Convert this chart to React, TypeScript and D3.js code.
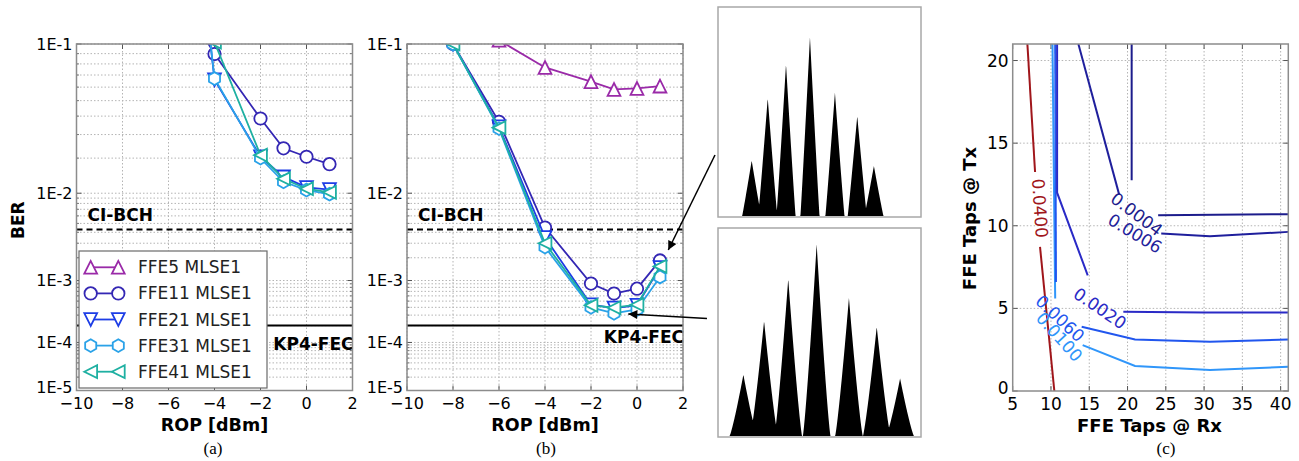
import React from 'react';
import * as d3 from 'd3';

// ---------------- data ----------------
const seriesNames = ['FFE5 MLSE1', 'FFE11 MLSE1', 'FFE21 MLSE1', 'FFE31 MLSE1', 'FFE41 MLSE1'];
const seriesColors = ['#9a2aa8', '#3427b4', '#1d3de6', '#2aa2e8', '#1fb0a2'];
const seriesMarkers = ['tri-up', 'circle', 'tri-down', 'hexagon', 'tri-left'];

// panel (a): FFE5 lies entirely above 1E-1 (not visible)
const ropA = [-5, -4, -2, -1, 0, 1];
const ffe11A = [0.133, 0.0896, 0.0386, 0.0238, 0.0205, 0.0179];
const ffe21A = [0.35, 0.066, 0.0205, 0.014, 0.0113, 0.0108];
const ffe31A = [0.35, 0.067, 0.02, 0.0127, 0.0107, 0.0098];
const ffe41A = [0.3, 0.102, 0.0211, 0.0135, 0.011, 0.0102];

// panel (b)
const ropB = [-8, -6, -4, -2, -1, 0, 1];
const ffe5B = [0.2, 0.104, 0.0767, 0.0644, 0.0582, 0.059, 0.0608];
const ffe11B = [0.1, 0.0367, 0.00451, 0.000906, 0.00065, 0.000766, 0.00185];
const ffe21B = [0.1, 0.034, 0.0035, 0.00044, 0.00039, 0.00043, 0.0015];
const ffe31B = [0.1, 0.033, 0.0027, 0.0004, 0.00032, 0.00037, 0.00112];
const ffe41B = [0.1, 0.0335, 0.003, 0.00043, 0.000395, 0.00044, 0.00155];

const xTicks = [-10, -8, -6, -4, -2, 0, 2];
const xTickLabels = ['\u221210', '\u22128', '\u22126', '\u22124', '\u22122', '0', '2'];
const yTicks = [1e-1, 1e-2, 1e-3, 1e-4, 1e-5];
const yTickLabels = ['1E-1', '1E-2', '1E-3', '1E-4', '1E-5'];
const ciBch = 4.3e-3;
const kp4Fec = 2e-4;

// histograms (normalized amplitude level, normalized count)
const histTopLevels = [0.166, 0.245, 0.335, 0.453, 0.576, 0.686, 0.768];
const histTopCounts = [0.31, 0.66, 0.85, 1.0, 0.69, 0.56, 0.28];
const histBotLevels = [0.125, 0.227, 0.346, 0.486, 0.645, 0.782, 0.897];
const histBotCounts = [0.32, 0.6, 0.82, 1.0, 0.72, 0.57, 0.3];

// panel (c) contours (FFE taps @ Rx, FFE taps @ Tx)
const cXTicks = [5, 10, 15, 20, 25, 30, 35, 40];
const cYTicks = [0, 5, 10, 15, 20];
const contourNames = ['0.0400', '0.0100', '0.0060', '0.0020', '0.0006', '0.0004'];
const contourColors = ['#a0161b', '#3096fa', '#2156ee', '#2a2ac6', '#1f1f9c', '#1c1c8c'];
const c0400 = [[[6.92, 21], [7.92, 13.25]], [[8.57, 8.72], [10.44, 0]]];
const c0100 = [[[10.2, 21], [10.4, 12], [10.55, 5.6]], [[14.14, 2.78], [20.98, 1.51], [30.77, 1.27], [41, 1.47]]];
const c0060 = [[[10.55, 21], [10.65, 6.6]], [[14.01, 3.89], [20.98, 3.12], [30.77, 2.98], [41, 3.12]]];
const c0020 = [[[10.8, 21], [10.8, 12.0], [14.8, 7.0]], [[19.45, 4.79], [30, 4.75], [41, 4.75]]];
const c0006 = [[[13.58, 21], [18.9, 11.9]], [[24.4, 9.53], [30.77, 9.37], [41, 9.63]]];
const c0004 = [[[20.54, 21], [20.54, 12.75]], [[24.0, 10.63], [41, 10.7]]];
const contourData = [c0400, c0100, c0060, c0020, c0006, c0004];
const contourLabelX = [8.57, 11.09, 11.18, 16.4, 20.97, 21.19];
const contourLabelY = [11.06, 3.28, 4.39, 5.0, 9.53, 10.7];
const contourLabelAngle = [86, 48, 43, 34, 31, 37];

// ---------------- helpers ----------------
const FONT = 'DejaVu Sans, sans-serif';
const GRID = { stroke: '#b4b4b4', strokeWidth: 1, strokeDasharray: '1.5,2' };
const FRAME = '#8c8c8c';

function markerPath(type: string, s: number): string {
  switch (type) {
    case 'tri-up':
      return `M0,${-s}L${-s},${s}L${s},${s}Z`;
    case 'tri-down':
      return `M0,${s}L${-s},${-s}L${s},${-s}Z`;
    case 'tri-left':
      return `M${-s},0L${s},${-s}L${s},${s}Z`;
    case 'hexagon': {
      const pts = d3.range(6).map((k) => {
        const a = ((-90 + 60 * k) * Math.PI) / 180;
        return [s * Math.cos(a), s * Math.sin(a)];
      });
      return 'M' + pts.map((p) => p.join(',')).join('L') + 'Z';
    }
    default: {
      const r = s * 0.97;
      return `M${r},0A${r},${r} 0 1,1 ${-r},0A${r},${r} 0 1,1 ${r},0Z`;
    }
  }
}

function Marker({ type, x, y, color }: any) {
  return (
    <path d={markerPath(type, 6.4)} transform={`translate(${x},${y})`} fill="white" stroke={color} strokeWidth={1.8} />
  );
}

const minorVals: number[] = [];
for (let n = 2; n <= 5; n++) for (let k = 2; k <= 9; k++) minorVals.push(k * Math.pow(10, -n));

function BerPanel({ id, x0, x1, y0, y1, rop, series, showYLabel, kpLabelY }: any) {
  const xs = d3.scaleLinear().domain([-10, 2]).range([x0, x1]);
  const ls = d3.scaleLog().domain([1, 5]).range([y0, y1]);
  const ys = (v: number) => ls(-Math.log10(v));
  const line = d3
    .line<[number, number]>()
    .x((d) => xs(d[0]))
    .y((d) => ys(d[1]));
  return (
    <g>
      <defs>
        <clipPath id={id}>
          <rect x={x0} y={y0} width={x1 - x0} height={y1 - y0} />
        </clipPath>
      </defs>
      <rect x={x0} y={y0} width={x1 - x0} height={y1 - y0} fill="white" />
      {minorVals.map((v, i) => (
        <line key={'m' + i} x1={x0} x2={x1} y1={ys(v)} y2={ys(v)} {...GRID} />
      ))}
      {yTicks.map((v, i) => (
        <line key={'y' + i} x1={x0} x2={x1} y1={ys(v)} y2={ys(v)} {...GRID} />
      ))}
      {xTicks.map((v, i) => (
        <line key={'x' + i} x1={xs(v)} x2={xs(v)} y1={y0} y2={y1} {...GRID} />
      ))}
      {xTicks.map((v, i) => (
        <g key={'xt' + i}>
          <line x1={xs(v)} x2={xs(v)} y1={y1} y2={y1 - 5} stroke="#555" />
          <line x1={xs(v)} x2={xs(v)} y1={y0} y2={y0 + 5} stroke="#555" />
        </g>
      ))}
      {yTicks.map((v, i) => (
        <g key={'yt' + i}>
          <line x1={x0} x2={x0 + 5} y1={ys(v)} y2={ys(v)} stroke="#555" />
          <line x1={x1} x2={x1 - 5} y1={ys(v)} y2={ys(v)} stroke="#555" />
        </g>
      ))}
      {minorVals.map((v, i) => (
        <g key={'mt' + i}>
          <line x1={x0} x2={x0 + 2.5} y1={ys(v)} y2={ys(v)} stroke="#777" />
          <line x1={x1} x2={x1 - 2.5} y1={ys(v)} y2={ys(v)} stroke="#777" />
        </g>
      ))}
      <line x1={x0} x2={x1} y1={ys(ciBch)} y2={ys(ciBch)} stroke="black" strokeWidth={2} strokeDasharray="6,4" />
      <line x1={x0} x2={x1} y1={ys(kp4Fec)} y2={ys(kp4Fec)} stroke="black" strokeWidth={2} />
      <text x={x0 + 11} y={ys(ciBch) - 8} fontFamily={FONT} fontWeight="bold" fontSize={17}>
        CI-BCH
      </text>
      <text x={x1 + 1} y={kpLabelY} fontFamily={FONT} fontWeight="bold" fontSize={17} textAnchor="end">
        KP4-FEC
      </text>
      <g clipPath={`url(#${id})`}>
        {series.map((s: any, i: number) => {
          if (!s.values) return null;
          const pts: [number, number][] = rop.map((r: number, j: number) => [r, s.values[j]]);
          return (
            <g key={'s' + i}>
              <path d={line(pts) || ''} fill="none" stroke={seriesColors[s.idx]} strokeWidth={1.8} />
              {pts.map((p, j) => (
                <Marker key={j} type={seriesMarkers[s.idx]} x={xs(p[0])} y={ys(p[1])} color={seriesColors[s.idx]} />
              ))}
            </g>
          );
        })}
      </g>
      <rect x={x0} y={y0} width={x1 - x0} height={y1 - y0} fill="none" stroke={FRAME} strokeWidth={1.5} />
      {yTicks.map((v, i) => (
        <text
          key={'yl' + i}
          x={x0 - 4}
          y={ys(v) + (i === 4 ? -3 : 0)}
          fontFamily={FONT}
          fontSize={16}
          textAnchor="end"
          dominantBaseline="central"
        >
          {yTickLabels[i]}
        </text>
      ))}
      {xTicks.map((v, i) => (
        <text key={'xl' + i} x={xs(v)} y={y1 + 18} fontFamily={FONT} fontSize={16} textAnchor="middle">
          {xTickLabels[i]}
        </text>
      ))}
      <text x={(x0 + x1) / 2} y={y1 + 40} fontFamily={FONT} fontWeight="bold" fontSize={17.5} textAnchor="middle">
        ROP [dBm]
      </text>
      {showYLabel && (
        <text
          transform={`translate(${x0 - 59},${(y0 + y1) / 2 + 3}) rotate(-90)`}
          fontFamily={FONT}
          fontWeight="bold"
          fontSize={17}
          textAnchor="middle"
          dominantBaseline="central"
        >
          BER
        </text>
      )}
    </g>
  );
}

function Histogram({ id, x0, x1, y0, y1, base, top, levels, counts, hw, pw }: any) {
  const xs = d3.scaleLinear().domain([0, 1]).range([x0, x1]);
  const ys = d3.scaleLinear().domain([0, top]).range([base, y0]);
  const grid = d3.range(0, 1.0001, 0.0015);
  const dens = grid.map((g) => {
    let v = 0;
    levels.forEach((l: number, i: number) => {
      const t = Math.abs(g - l) / hw;
      if (t < 1) v = Math.max(v, counts[i] * Math.pow(1 - t, pw));
    });
    return [g, v] as [number, number];
  });
  const area = d3
    .area<[number, number]>()
    .x((d) => xs(d[0]))
    .y0(ys(0))
    .y1((d) => ys(d[1]));
  return (
    <g>
      <defs>
        <clipPath id={id}>
          <rect x={x0} y={y0} width={x1 - x0} height={y1 - y0} />
        </clipPath>
      </defs>
      <path d={area(dens) || ''} fill="black" clipPath={`url(#${id})`} />
      <rect x={x0} y={y0} width={x1 - x0} height={y1 - y0} fill="none" stroke="#a8a8a8" strokeWidth={1.5} />
    </g>
  );
}

function ContourPanel() {
  const x0 = 1012.7,
    x1 = 1288.3,
    y0 = 44,
    y1 = 391;
  const xs = d3.scaleLinear().domain([5, 41]).range([x0, x1]);
  const ys = d3.scaleLinear().domain([0, 21]).range([y1, y0]);
  const line = d3
    .line<number[]>()
    .x((d) => xs(d[0]))
    .y((d) => ys(d[1]));
  return (
    <g>
      <defs>
        <clipPath id="clipC">
          <rect x={x0} y={y0} width={x1 - x0} height={y1 - y0} />
        </clipPath>
      </defs>
      {cXTicks.slice(1).map((v, i) => (
        <line key={'gx' + i} x1={xs(v)} x2={xs(v)} y1={y0} y2={y1} {...GRID} />
      ))}
      {cYTicks.slice(1).map((v, i) => (
        <line key={'gy' + i} x1={x0} x2={x1} y1={ys(v)} y2={ys(v)} {...GRID} />
      ))}
      {cXTicks.map((v, i) => (
        <g key={'tx' + i}>
          <line x1={xs(v)} x2={xs(v)} y1={y1} y2={y1 - 5} stroke="#555" />
          <line x1={xs(v)} x2={xs(v)} y1={y0} y2={y0 + 5} stroke="#555" />
        </g>
      ))}
      {cYTicks.map((v, i) => (
        <g key={'ty' + i}>
          <line x1={x0} x2={x0 + 5} y1={ys(v)} y2={ys(v)} stroke="#555" />
          <line x1={x1} x2={x1 - 5} y1={ys(v)} y2={ys(v)} stroke="#555" />
        </g>
      ))}
      <g clipPath="url(#clipC)">
        {contourData.map((segs, i) =>
          segs.map((seg, j) => (
            <path key={i + '-' + j} d={line(seg) || ''} fill="none" stroke={contourColors[i]} strokeWidth={2} />
          ))
        )}
      </g>
      {contourNames.map((n, i) => (
        <text
          key={'cl' + i}
          transform={`translate(${xs(contourLabelX[i])},${ys(contourLabelY[i])}) rotate(${contourLabelAngle[i]})`}
          fontFamily={FONT}
          fontSize={17}
          fill={contourColors[i]}
          textAnchor="middle"
          dominantBaseline="central"
        >
          {n}
        </text>
      ))}
      <rect x={x0} y={y0} width={x1 - x0} height={y1 - y0} fill="none" stroke={FRAME} strokeWidth={1.5} />
      {cXTicks.map((v, i) => (
        <text key={'xl' + i} x={xs(v)} y={y1 + 19} fontFamily={FONT} fontSize={17} textAnchor="middle">
          {v}
        </text>
      ))}
      {cYTicks.map((v, i) => (
        <text
          key={'yl' + i}
          x={x0 - 4}
          y={ys(v) - (i === 0 ? 3 : 0)}
          fontFamily={FONT}
          fontSize={17}
          textAnchor="end"
          dominantBaseline="central"
        >
          {v}
        </text>
      ))}
      <text x={(x0 + x1) / 2 - 1} y={y1 + 41} fontFamily={FONT} fontWeight="bold" fontSize={18} textAnchor="middle">
        FFE Taps @ Rx
      </text>
      <text
        transform={`translate(${x0 - 43},${(y0 + y1) / 2 + 1}) rotate(-90)`}
        fontFamily={FONT}
        fontWeight="bold"
        fontSize={18}
        textAnchor="middle"
        dominantBaseline="central"
      >
        FFE Taps @ Tx
      </text>
    </g>
  );
}

function Legend() {
  const lx = 79,
    ly = 251,
    w = 188,
    h = 137;
  return (
    <g>
      <rect x={lx} y={ly} width={w} height={h} fill="white" stroke="#6a6a6a" strokeWidth={1.2} />
      {seriesNames.map((n, i) => {
        const y = 267.3 + i * 26.1;
        return (
          <g key={i}>
            <line x1={90.7} x2={118.3} y1={y} y2={y} stroke={seriesColors[i]} strokeWidth={1.8} />
            <Marker type={seriesMarkers[i]} x={90.7} y={y} color={seriesColors[i]} />
            <Marker type={seriesMarkers[i]} x={118.3} y={y} color={seriesColors[i]} />
            <text x={138} y={y} fontFamily={FONT} fontSize={17} dominantBaseline="central" fill="#222">
              {n}
            </text>
          </g>
        );
      })}
    </g>
  );
}

export default function App() {
  const seriesA = [
    { idx: 0, values: null },
    { idx: 1, values: ffe11A },
    { idx: 2, values: ffe21A },
    { idx: 3, values: ffe31A },
    { idx: 4, values: ffe41A },
  ];
  const seriesB = [
    { idx: 0, values: ffe5B },
    { idx: 1, values: ffe11B },
    { idx: 2, values: ffe21B },
    { idx: 3, values: ffe31B },
    { idx: 4, values: ffe41B },
  ];
  return (
    <svg
      width={1299}
      height={461}
      viewBox="0 0 1299 461"
      style={{ position: 'absolute', left: 0, top: 0, background: 'white' }}
    >
      <defs>
        <marker id="arrowHead" viewBox="0 0 10 10" refX="10" refY="5" markerWidth="11" markerHeight="9" orient="auto" markerUnits="userSpaceOnUse">
          <path d="M0,0L10,5L0,10Z" fill="black" />
        </marker>
      </defs>
      <rect x={0} y={0} width={1299} height={461} fill="white" />
      <BerPanel id="clipA" x0={76.5} x1={352.5} y0={44} y1={390.5} rop={ropA} series={seriesA} showYLabel kpLabelY={350} />
      <BerPanel id="clipB" x0={407} x1={683} y0={44} y1={390.5} rop={ropB} series={seriesB} showYLabel={false} kpLabelY={343} />
      <Legend />
      <Histogram id="hTop" x0={718} x1={921} y0={7} y1={217} base={216} top={1.17} levels={histTopLevels} counts={histTopCounts} hw={0.047} pw={1.05} />
      <Histogram id="hBot" x0={718} x1={921} y0={228} y1={437} base={436} top={1.085} levels={histBotLevels} counts={histBotCounts} hw={0.068} pw={1.2} />
      <line x1={715} y1={155} x2={668.3} y2={250} stroke="black" strokeWidth={1.5} markerEnd="url(#arrowHead)" />
      <line x1={707} y1={318.5} x2={628.3} y2={314} stroke="black" strokeWidth={1.5} markerEnd="url(#arrowHead)" />
      <ContourPanel />
      <text x={213} y={454} fontFamily="Liberation Serif, serif" fontSize={17} textAnchor="middle">(a)</text>
      <text x={546} y={454} fontFamily="Liberation Serif, serif" fontSize={17} textAnchor="middle">(b)</text>
      <text x={1166} y={454} fontFamily="Liberation Serif, serif" fontSize={17} textAnchor="middle">(c)</text>
    </svg>
  );
}
